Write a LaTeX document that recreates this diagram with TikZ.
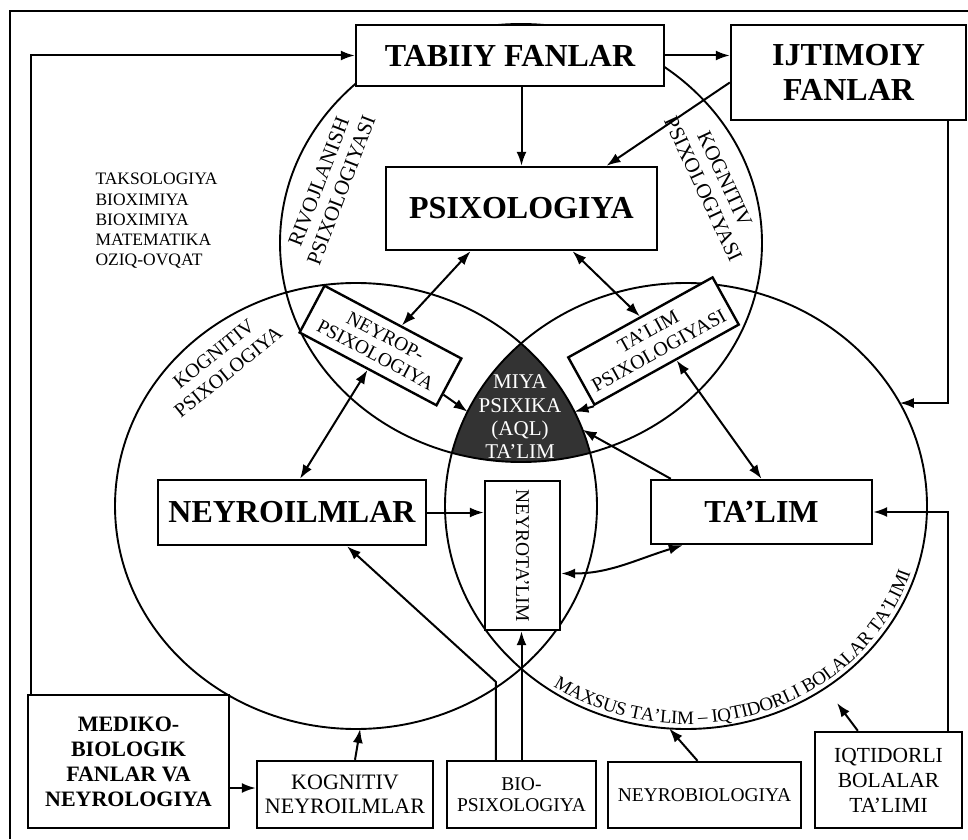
\documentclass[tikz,border=0pt]{standalone}
\usepackage{fontspec}
\setmainfont{Liberation Serif}
\usetikzlibrary{arrows.meta,calc,decorations.text}

\begin{document}
\begin{tikzpicture}[x=1pt,y=1pt,
  box/.style={draw, fill=white, line width=2.4pt, inner sep=1pt, align=center},
  bigbox/.style={box, font=\fontsize{32}{35}\selectfont\bfseries},
  midbox/.style={box, font=\fontsize{22}{24}\selectfont},
  smallbox/.style={box, font=\fontsize{19.5}{21}\selectfont},
  ring/.style={line width=1.9pt},
  arclabel/.style={align=center, font=\fontsize{21}{24}\selectfont},
  arr/.style={line width=2pt, -{Latex[length=14pt,width=10pt]}},
  dblarr/.style={line width=2pt, {Latex[length=14pt,width=10pt]}-{Latex[length=14pt,width=10pt]}}]
  \useasboundingbox (0,0) rectangle (968,839);
  \draw[line width=2.5pt] (10,0) -- (10,828) -- (968,828);

  \coordinate (cA) at (521,596);
  \coordinate (cB) at (356,333);
  \coordinate (cC) at (686,333);

  \begin{scope}
    \clip (cA) ellipse [x radius=241, y radius=219];
    \clip (cB) ellipse [x radius=241, y radius=223];
    \fill[black!80] (cC) ellipse [x radius=241, y radius=223];
  \end{scope}
  \draw[ring] (cA) ellipse [x radius=241, y radius=219];
  \draw[ring] (cB) ellipse [x radius=241, y radius=223];
  \draw[ring] (cC) ellipse [x radius=241, y radius=223];

  \coordinate (cCe) at ($(cC)+(27.5:241 and 223)$);
  \coordinate (cBs) at ($(cB)+(271:241 and 223)$);
  \coordinate (cCs) at ($(cC)+(266:241 and 223)$);
  \coordinate (dkL) at ($(cC)+(155:241 and 223)$);
  \coordinate (dkR1) at ($(cB)+(25:241 and 223)$);
  \coordinate (dkR2) at ($(cB)+(20:241 and 223)$);
  \coordinate (iqtidtip) at (837,136);

  \node[bigbox, minimum width=308, minimum height=61] (tabiiy) at (510,783.5) {TABIIY FANLAR};
  \node[bigbox, minimum width=235, minimum height=95] (ijtimoiy) at (848.5,766.5) {IJTIMOIY\\FANLAR};
  \node[bigbox, minimum width=271, minimum height=83] (psix) at (521.5,630.5) {PSIXOLOGIYA};
  \node[bigbox, minimum width=268, minimum height=65] (neyroilm) at (292,326.5) {NEYROILMLAR};
  \node[bigbox, minimum width=221, minimum height=64] (talim) at (761.5,327) {TA’LIM};
  \node[smallbox, minimum width=75, minimum height=149] (neyrotalim) at (522.5,283.5) {\rotatebox{-90}{NEYROTA'LIM}};
  \node[smallbox, rotate=-28, minimum width=155, minimum height=53] (neyrop) at (380.5,493.5) {NEYROP-\\PSIXOLOGIYA};
  \node[smallbox, rotate=29, minimum width=165, minimum height=54, font=\fontsize{20}{22}\selectfont] (talimpsix) at (653.5,498) {TA'LIM\\PSIXOLOGIYASI};

  \node[midbox, minimum width=201, minimum height=133, font=\fontsize{22}{25}\selectfont\bfseries] (mediko) at (128.5,77.5) {MEDIKO-\\BIOLOGIK\\FANLAR VA\\NEYROLOGIYA};
  \node[midbox, minimum width=176, minimum height=67] (kogneyro) at (345,44.5) {KOGNITIV\\NEYROILMLAR};
  \node[smallbox, minimum width=149, minimum height=67] (biopsix) at (521.5,44.5) {BIO-\\PSIXOLOGIYA};
  \node[smallbox, minimum width=193, minimum height=66] (neyrobio) at (704.5,44) {NEYROBIOLOGIYA};
  \node[midbox, minimum width=147, minimum height=96, font=\fontsize{21.5}{25}\selectfont] (iqtid) at (888.5,59) {IQTIDORLI\\BOLALAR\\TA'LIMI};

  \node[anchor=west, align=left, font=\fontsize{17.5}{20.3}\selectfont] (fanlist) at (92,618) {TAKSOLOGIYA\\BIOXIMIYA\\BIOXIMIYA\\MATEMATIKA\\OZIQ-OVQAT};
  \node[text=white, align=center, font=\fontsize{21}{23.3}\selectfont] (core) at (520,422) {MIYA\\PSIXIKA\\(AQL)\\TA’LIM};
  \node[arclabel, rotate=69] (rivoj) at (330,653) {RIVOJLANISH\\PSIXOLOGIYASI};
  \node[arclabel, rotate=-65] (kogpsixA) at (714,655) {KOGNITIV\\PSIXOLOGIYASI};
  \node[arclabel, rotate=39, font=\fontsize{20}{23}\selectfont] (kogpsixB) at (221,476) {KOGNITIV\\PSIXOLOGIYA};
  \path[decorate, decoration={text along path, text align=center, raise=5pt,
      text={|\fontsize{19}{19}\selectfont|MAXSUS TA'LIM – IQTIDORLI BOLALAR TA'LIMI}}]
    ($(cC)+(205:241 and 223)$) arc[start angle=205, end angle=374, x radius=241, y radius=223];

  \draw[arr] ([xshift=4pt]mediko.north west) |- (tabiiy.west);
  \draw[arr] (tabiiy.east) -- (ijtimoiy.west |- tabiiy.east);
  \draw[arr] (tabiiy.south -| psix.north) -- (psix.north);
  \draw[arr] ([yshift=-10pt]ijtimoiy.west) -- ([xshift=85pt]psix.north);
  \draw[arr] ([xshift=-19pt]ijtimoiy.south east) |- (cCe);
  \draw[arr] ([xshift=-15pt]iqtid.north east) |- (talim.east);
  \draw[arr] (neyroilm.east) -- (neyrotalim.west |- neyroilm.east);
  \draw[dblarr] ([xshift=-51pt]psix.south) -- ($(neyrop.north)!0.12!(neyrop.north east)$);
  \draw[dblarr] ([xshift=51pt]psix.south) -- (talimpsix.north);
  \draw[dblarr] (neyrop.south) -- ([xshift=8pt]neyroilm.north);
  \draw[dblarr] ($(talimpsix.south)!0.13!(talimpsix.south east)$) -- (talim.north);
  \draw[arr] ($(neyrop.east)!0.5!(neyrop.south east)$) -- (dkL);
  \draw[arr] (talimpsix.south west) -- (dkR1);
  \draw[arr] ([xshift=21pt]talim.north west) -- (dkR2);
  \draw[dblarr] ([xshift=33pt]talim.south west) to[out=197, in=0] ([yshift=-18pt]neyrotalim.east);
  \draw[arr] ([xshift=50pt]biopsix.north west) -- ++(0,78) -- ([xshift=55pt]neyroilm.south);
  \draw[arr] (biopsix.north) -- (biopsix.north |- neyrotalim.south);
  \draw[arr] ([yshift=6.5pt]kogneyro.west -| mediko.east) -- ([yshift=6.5pt]kogneyro.west);
  \draw[arr] ([xshift=10pt]kogneyro.north) -- (cBs);
  \draw[arr] ([xshift=-7pt]neyrobio.north) -- (cCs);
  \draw[arr] ([xshift=44pt]iqtid.north west) -- (iqtidtip);
\end{tikzpicture}
\end{document}
